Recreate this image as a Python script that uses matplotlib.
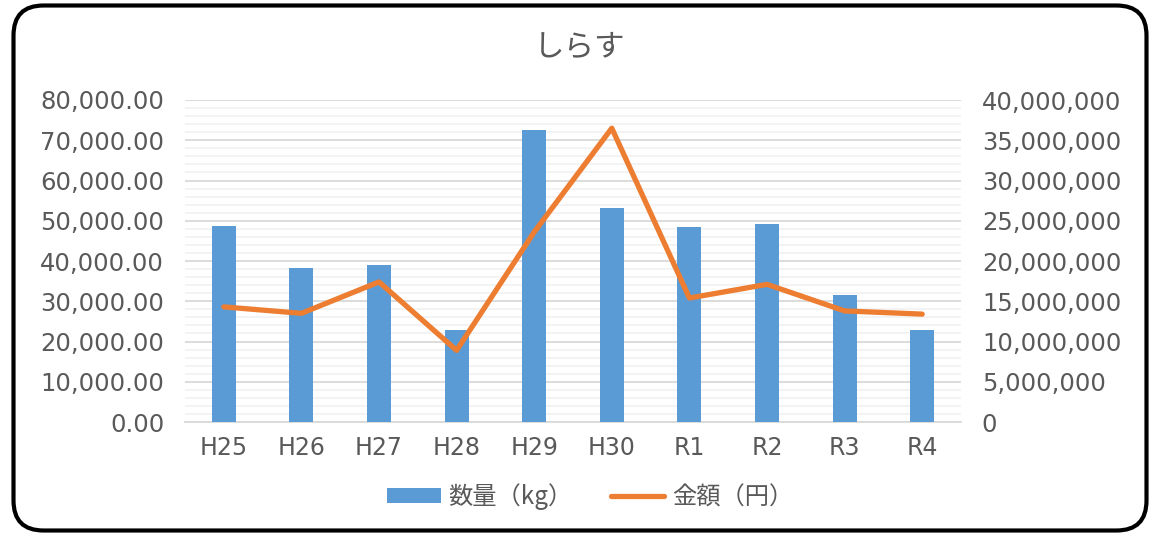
import matplotlib
matplotlib.use("Agg")
import matplotlib.pyplot as plt
from matplotlib.patches import FancyBboxPatch, Patch
from matplotlib.lines import Line2D
from matplotlib.ticker import FuncFormatter, MultipleLocator
import numpy as np

categories = ["H25", "H26", "H27", "H28", "H29", "H30", "R1", "R2", "R3", "R4"]
quantity_kg = [48700, 38300, 39100, 22900, 72600, 53200, 48500, 49200, 31600, 22800]
amount_yen = [14300000, 13500000, 17400000, 8900000, 23600000, 36500000,
              15400000, 17100000, 13800000, 13400000]
title = "しらす"
legend_labels = ["数量（kg）", "金額（円）"]

BAR_C = "#5B9BD5"
LINE_C = "#ED7D31"
TXT_C = "#595959"
CJK = ["Noto Sans CJK JP", "DejaVu Sans"]

fig = plt.figure(figsize=(11.51, 5.35), dpi=100)
fig.patch.set_facecolor("white")

# rounded frame
frame = FancyBboxPatch((0.135, 0.045), 11.33, 5.25,
                       boxstyle="round,pad=0,rounding_size=0.3",
                       transform=fig.dpi_scale_trans, facecolor="none",
                       edgecolor="black", linewidth=3.0, zorder=5)
fig.patches.append(frame)

ax = fig.add_axes([185/1151, 1-422/535, (961-185)/1151, (422-100)/535])
ax.set_facecolor("none")
x = np.arange(len(categories))
ax.bar(x, quantity_kg, width=0.31, color=BAR_C, zorder=3)
ax.set_xlim(-0.5, len(categories)-0.5)
ax.set_ylim(0, 80000)
ax.yaxis.set_major_locator(MultipleLocator(10000))
ax.yaxis.set_minor_locator(MultipleLocator(2000))
ax.yaxis.set_major_formatter(FuncFormatter(lambda v, p: f"{v:,.2f}"))
ax.grid(axis="y", which="minor", color="#f2f2f2", linewidth=1.3, zorder=0)
ax.grid(axis="y", which="major", color="#d9d9d9", linewidth=1.3, zorder=1)
ax.set_axisbelow(True)
for s in ["top", "right", "left"]:
    ax.spines[s].set_visible(False)
ax.spines["bottom"].set_color("#d9d9d9")
ax.spines["bottom"].set_linewidth(1.3)
ax.tick_params(axis="both", which="both", length=0, colors=TXT_C, labelsize=17.5)
ax.tick_params(axis="y", pad=15)
ax.tick_params(axis="x", labelsize=17, pad=10)
ax.set_xticks(x)
ax.set_xticklabels(categories)

ax2 = ax.twinx()
ax2.plot(x, amount_yen, color=LINE_C, linewidth=3.8, solid_capstyle="round",
         solid_joinstyle="round", zorder=4)
ax2.set_ylim(0, 40000000)
ax2.yaxis.set_major_locator(MultipleLocator(5000000))
ax2.yaxis.set_major_formatter(FuncFormatter(lambda v, p: f"{v:,.0f}"))
for s in ax2.spines.values():
    s.set_visible(False)
ax2.tick_params(axis="y", length=0, colors=TXT_C, labelsize=17.5, pad=15)

fig.text(580/1151, 1-47/535, title, ha="center", va="center", fontsize=22,
         color=TXT_C, family=CJK)

handles = [Patch(facecolor=BAR_C, edgecolor="none"),
           Line2D([0], [0], color=LINE_C, linewidth=3.8, solid_capstyle="round")]
leg = fig.legend(handles, legend_labels, loc="center", bbox_to_anchor=(590/1151, 1-497/535),
                 ncol=2, frameon=False, prop={"family": CJK, "size": 17.5},
                 handlelength=2.2, handleheight=0.55, handletextpad=0.3, columnspacing=1.6)
for t in leg.get_texts():
    t.set_color(TXT_C)

fig.savefig("out.png", dpi=100, facecolor="white")
